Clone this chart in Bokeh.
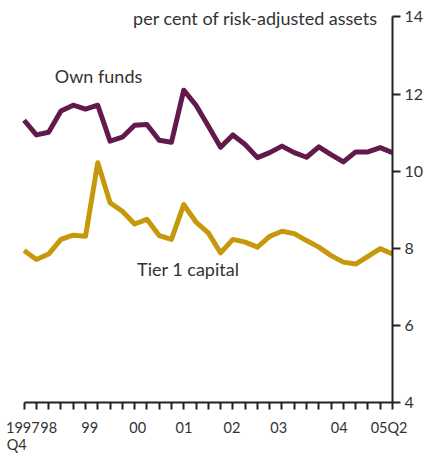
from bokeh.plotting import figure
from bokeh.models import FixedTicker, Label, LinearAxis
from bokeh.embed import file_html
from bokeh.resources import INLINE

# quarters 1997 Q4 .. 2005 Q2 (index 0 = 1997 Q4)
quarters = list(range(31))
own_funds = [11.32, 10.94, 11.01, 11.56, 11.71, 11.61, 11.71, 10.78, 10.88, 11.19, 11.21,
             10.80, 10.75, 12.10, 11.71, 11.17, 10.62, 10.94, 10.69, 10.35, 10.48, 10.65,
             10.48, 10.36, 10.63, 10.43, 10.24, 10.50, 10.50, 10.61, 10.48]
tier1 = [7.94, 7.71, 7.85, 8.23, 8.34, 8.31, 10.22, 9.18, 8.96, 8.63, 8.75,
         8.33, 8.23, 9.13, 8.68, 8.40, 7.88, 8.23, 8.16, 8.03, 8.31, 8.44,
         8.38, 8.20, 8.03, 7.81, 7.64, 7.59, 7.79, 7.99, 7.85]
# tick label texts and where (in quarter units) the reference centres them
x_label_text = ["1997", "98", "99", "00", "01", "02", "03", "04", "05Q2"]
x_label_at = [-0.1, 2.0, 5.34, 9.25, 13.02, 16.93, 20.73, 25.66, 29.72]
x_sub_text = ["Q4"]
x_sub_at = [-0.6]
y_ticks = [4, 6, 8, 10, 12, 14]

FONT = "Lato"
TXT = "#333333"
AX = "#222222"
PURPLE = "#621A4C"
GOLD = "#C8980C"

p = figure(width=428, height=455, x_range=(-0.7, 30), y_range=(4, 14.4),
           y_axis_location="right", output_backend="svg", toolbar_location=None,
           min_border_left=15, min_border_top=1, min_border_right=36, min_border_bottom=40)
p.outline_line_color = None
p.grid.visible = False

p.line(quarters, own_funds, line_color=PURPLE, line_width=5, line_join="round")
p.line(quarters, tier1, line_color=GOLD, line_width=5, line_join="round")

# main x axis: a tick at every quarter, labels on separate label rows below
xa = p.xaxis[0]
xa.ticker = FixedTicker(ticks=quarters)
xa.bounds = (0, 30)
xa.major_label_overrides = {q: "" for q in quarters}
xa.major_label_text_font_size = "1px"
xa.major_label_standoff = 0
xa.major_tick_out = 7
xa.major_tick_in = 0
xa.minor_tick_out = 0
xa.axis_line_width = 2
xa.major_tick_line_width = 2
xa.axis_line_color = AX
xa.major_tick_line_color = AX

lab1 = LinearAxis(ticker=FixedTicker(ticks=x_label_at),
                  major_label_overrides=dict(zip(x_label_at, x_label_text)),
                  axis_line_color=None, major_tick_line_color=None,
                  minor_tick_line_color=None, major_label_standoff=3,
                  major_label_text_font=FONT, major_label_text_font_size="14.5px",
                  major_label_text_color=TXT)
p.add_layout(lab1, "below")

lab2 = LinearAxis(ticker=FixedTicker(ticks=x_sub_at),
                  major_label_overrides=dict(zip(x_sub_at, x_sub_text)),
                  axis_line_color=None, major_tick_line_color=None,
                  minor_tick_line_color=None, major_label_standoff=-9,
                  major_label_text_font=FONT, major_label_text_font_size="14.5px",
                  major_label_text_color=TXT)
p.add_layout(lab2, "below")

ya = p.yaxis[0]
ya.ticker = FixedTicker(ticks=y_ticks)
ya.bounds = (4, 14)
ya.major_tick_out = 8
ya.major_tick_in = 0
ya.minor_tick_out = 0
ya.axis_line_width = 2
ya.major_tick_line_width = 2
ya.axis_line_color = AX
ya.major_tick_line_color = AX
ya.major_label_text_font = FONT
ya.major_label_text_font_size = "16px"
ya.major_label_text_color = TXT
ya.major_label_standoff = 4

p.add_layout(Label(x=28.8, y=13.98, text="per cent of risk-adjusted assets", text_align="right",
                   text_baseline="middle", text_font=FONT, text_font_size="18px",
                   text_color=TXT))
p.add_layout(Label(x=2.5, y=12.47, text="Own funds", text_align="left",
                   text_baseline="middle", text_font=FONT, text_font_size="18px",
                   text_color=TXT))
p.add_layout(Label(x=9.2, y=7.45, text="Tier 1 capital", text_align="left",
                   text_baseline="middle", text_font=FONT, text_font_size="18px",
                   text_color=TXT))

open("out.html", "w").write(file_html(p, INLINE))
